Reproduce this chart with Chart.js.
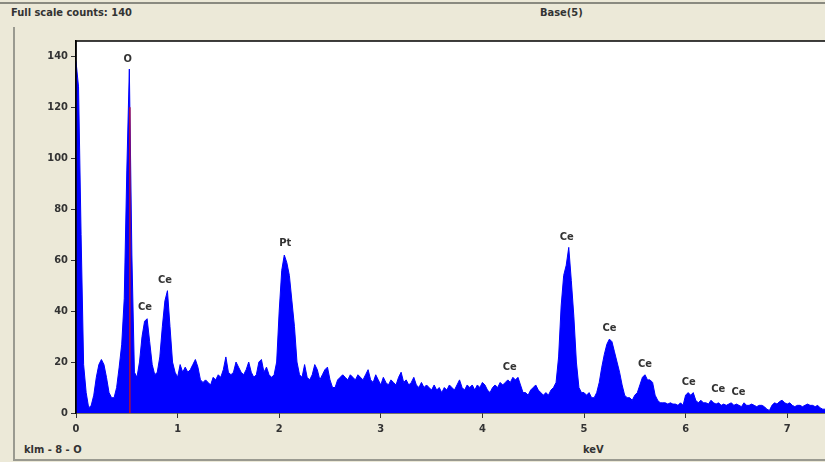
<!DOCTYPE html>
<html><head><meta charset="utf-8">
<script src="https://cdn.jsdelivr.net/npm/chart.js@4.4.1/dist/chart.umd.min.js"></script>
<style>
html,body{margin:0;padding:0;background:#ECE9D8;}
body{width:825px;height:462px;position:relative;overflow:hidden;font-family:"Liberation Sans Narrow","DejaVu Sans Condensed",sans-serif;font-weight:bold;color:#333;}
#frameTop{position:absolute;left:0;top:2px;width:825px;height:0;border-top:2px solid #8a8a80;}
#panel{position:absolute;left:13px;top:27px;width:830px;height:432px;border-left:2px solid #9a9a90;border-bottom:2px solid #9a9a90;}
.lbl{position:absolute;font-size:11px;white-space:nowrap;line-height:12px;}
canvas{position:absolute;left:0;top:0;}
</style>
</head><body>
<div id="frameTop"></div>
<div id="panel"></div>
<div class="lbl" style="left:11px;top:7px;">Full scale counts: 140</div>
<div class="lbl" style="left:540px;top:7px;">Base(5)</div>
<div class="lbl" style="left:24px;top:444px;">klm - 8 - O</div>
<div class="lbl" style="left:583px;top:444px;">keV</div>
<canvas id="c" width="825" height="462"></canvas>
<script>
// EDS spectrum: channel width 0.025 keV starting at 0 keV
const channelWidth = 0.025;
const counts = [
 138,128,70,19,8,2,3,7,14,19,
 21,19,14,8,6,6,10,18,27,45,
 95,135,62,16,14,20,30,36,37,28,
 19,15,16,22,34,44,48,34,20,16,
 14,19,16,18,16,17,19,21,18,13,
 12,13,12,11,14,13,15,14,17,22,
 16,15,16,20,18,16,15,17,20,16,
 14,15,20,21,16,18,15,14,15,20,
 40,56,62,59,54,44,34,20,15,14,
 19,14,13,15,19,17,13,15,17,18,
 13,10,10,13,14,15,14,13,15,14,
 13,15,14,13,15,17,13,12,15,13,
 11,14,12,11,13,12,11,14,16,12,
 13,11,12,14,11,10,12,10,11,10,
 9,11,9,10,8,10,9,11,10,9,
 11,13,10,9,11,10,11,9,11,10,
 12,11,9,8,10,11,10,12,11,12,
 13,12,14,13,14,11,8,8,7,9,
 10,11,9,8,7,8,7,9,10,12,
 22,42,54,58,65,52,38,20,10,8,
 8,7,8,6,6,8,12,18,23,27,
 29,28,24,20,16,11,7,6,6,5,
 7,8,11,14,15,13,13,12,7,5,
 4,4,4,3.5,4,3.5,3.5,3,4,3,
 7,8,7,8,5,4,5,4,4,3.5,
 5,4,3.5,4,3,3.5,3,3.5,4,3,
 3.5,3,2.5,4,3,3,3.5,3,2.5,3,
 3,2.5,1.5,1,3,4,3.5,4.5,5,4,
 3.5,4,3,2.5,3,3,2.5,3,3.5,3,
 3,2.5,3,2,1.5,1.5
];
const energies = counts.map((_, i) => i * channelWidth);

// O K-alpha marker line
const markerKeV = [0.53, 0.53];
const markerCounts = [0, 120];

// peak labels
const peakLabels = ['O','Ce','Ce','Pt','Ce','Ce','Ce','Ce','Ce','Ce','Ce'];
const peakKeV    = [0.51, 0.68, 0.875, 2.06, 4.27, 4.83, 5.25, 5.60, 6.03, 6.32, 6.52];
const peakLabelY = [139, 41.5, 52, 66.5, 18, 69, 33.5, 19.2, 12.2, 9.2, 8.2];

const xTicks = [0,1,2,3,4,5,6,7];
const yTicks = [0,20,40,60,80,100,120,140];

const tickFont = {family:"'Liberation Sans Narrow','DejaVu Sans Condensed',sans-serif", size:11, weight:'bold'};

const framePlugin = {
  id:'frame',
  beforeDraw(chart){
    const {ctx, chartArea:a} = chart;
    ctx.save();
    ctx.fillStyle = '#ffffff';
    ctx.fillRect(a.left, a.top, a.right - a.left, a.bottom - a.top);
    ctx.restore();
  },
  afterDraw(chart){
    const {ctx, chartArea:a, scales} = chart;
    ctx.save();
    ctx.strokeStyle = '#000';
    ctx.lineWidth = 1.5;
    ctx.beginPath();
    ctx.moveTo(a.left, a.bottom); ctx.lineTo(a.left, a.top); ctx.lineTo(a.right, a.top);
    ctx.stroke();
    ctx.fillStyle = '#333';
    ctx.font = "bold 11px 'Liberation Sans Narrow','DejaVu Sans Condensed',sans-serif";
    ctx.textAlign = 'center';
    ctx.textBaseline = 'middle';
    peakLabels.forEach((t, i) => {
      ctx.fillText(t, scales.x.getPixelForValue(peakKeV[i]), scales.y.getPixelForValue(peakLabelY[i]));
    });
    ctx.restore();
  }
};

new Chart(document.getElementById('c'), {
  type:'line',
  data:{
    datasets:[
      {
        data: markerKeV.map((k,i)=>({x:k, y:markerCounts[i]})),
        borderColor:'#B0103A', borderWidth:1.5, pointRadius:0, fill:false, order:0
      },
      {
        data: energies.map((k,i)=>({x:k, y:counts[i]})),
        borderColor:'#0000FF', backgroundColor:'#0000FF', borderWidth:1,
        pointRadius:0, fill:'origin', tension:0, order:1
      }
    ]
  },
  options:{
    responsive:false, animation:false,
    layout:{padding:{top:41,left:0,right:0,bottom:0}},
    plugins:{legend:{display:false}, tooltip:{enabled:false}},
    scales:{
      x:{
        type:'linear', min:0, max:7.372,
        afterBuildTicks: s => { s.ticks = xTicks.map(v=>({value:v})); },
        afterFit: s => { s.height = 49; },
        ticks:{font:tickFont, color:'#333', padding:5, maxRotation:0, autoSkip:false},
        grid:{drawOnChartArea:false, drawTicks:true, tickLength:5, color:'#333'},
        border:{display:true, color:'#000', width:1.5}
      },
      y:{
        type:'linear', min:0, max:146,
        afterBuildTicks: s => { s.ticks = yTicks.map(v=>({value:v})); },
        afterFit: s => { s.width = 76; },
        ticks:{font:tickFont, color:'#333', padding:3, autoSkip:false},
        grid:{drawOnChartArea:false, drawTicks:true, tickLength:5, color:'#333'},
        border:{display:true, color:'#000', width:1.5}
      }
    }
  },
  plugins:[framePlugin]
});
</script>
</body></html>
